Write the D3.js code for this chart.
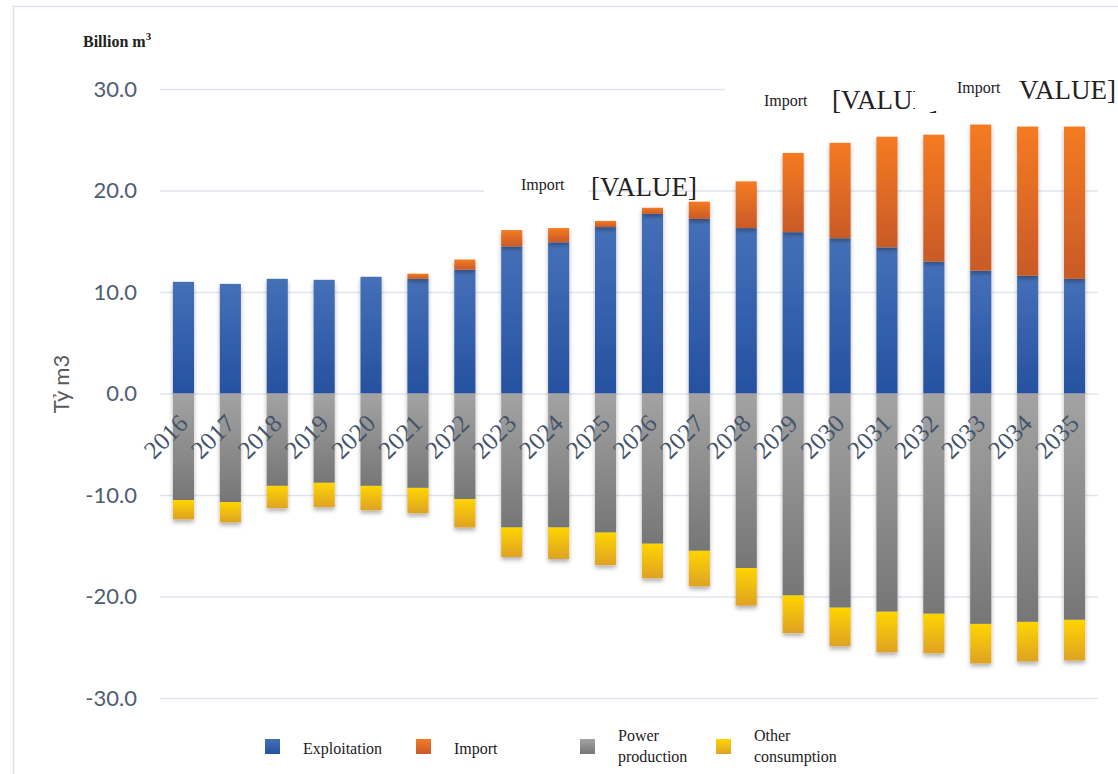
<!DOCTYPE html>
<html>
<head>
<meta charset="utf-8">
<script src="https://cdn.jsdelivr.net/npm/d3@7/dist/d3.min.js"></script>
<style>
  body { margin: 0; background: #fff; }
  svg { display: block; }
</style>
</head>
<body>
<svg id="chart"></svg>
<script>
// values in billion m3
const years = ['2016', '2017', '2018', '2019', '2020', '2021', '2022', '2023', '2024', '2025',
  '2026', '2027', '2028', '2029', '2030', '2031', '2032', '2033', '2034', '2035'];
const exploitation = [11.0, 10.8, 11.3, 11.2, 11.5, 11.3, 12.2, 14.5, 14.9, 16.4,
  17.7, 17.2, 16.3, 15.9, 15.3, 14.4, 13.0, 12.1, 11.6, 11.3];
const importGas = [0, 0, 0, 0, 0, 0.5, 1.0, 1.6, 1.4, 0.6,
  0.6, 1.7, 4.6, 7.8, 9.4, 10.9, 12.5, 14.4, 14.7, 15.0];
const powerProduction = [-10.5, -10.7, -9.1, -8.8, -9.1, -9.3, -10.4, -13.2, -13.2, -13.7,
  -14.8, -15.5, -17.2, -19.9, -21.1, -21.5, -21.7, -22.7, -22.5, -22.3];
const otherConsumption = [-1.9, -2.0, -2.2, -2.4, -2.4, -2.5, -2.8, -2.9, -3.1, -3.2,
  -3.4, -3.5, -3.7, -3.7, -3.8, -4.0, -3.9, -3.9, -3.9, -4.0];
const yTicks = [30, 20, 10, 0, -10, -20, -30];

const series = [
  { key: 'exploitation', label: ['Exploitation'], top: '#4570b8', bottom: '#2551a0' },
  { key: 'import', label: ['Import'], top: '#f57b22', bottom: '#c95a28' },
  { key: 'power', label: ['Power', 'production'], top: '#a3a3a3', bottom: '#767676' },
  { key: 'other', label: ['Other', 'consumption'], top: '#ffd500', bottom: '#dea224' },
];

const rows = years.map((year, i) => ({
  year,
  exploitation: exploitation[i],
  import: importGas[i],
  power: powerProduction[i],
  other: otherConsumption[i],
}));

const width = 1118;
const height = 774;
const svg = d3.select('#chart').attr('width', width).attr('height', height);

const defs = svg.append('defs');
series.forEach((s) => {
  const g = defs.append('linearGradient').attr('id', `grad-${s.key}`)
    .attr('x1', 0).attr('y1', 0).attr('x2', 0).attr('y2', 1);
  g.append('stop').attr('offset', '0%').attr('stop-color', s.top);
  g.append('stop').attr('offset', '100%').attr('stop-color', s.bottom);
});
defs.append('filter').attr('id', 'shadow')
  .attr('x', '-30%').attr('y', '-10%').attr('width', '160%').attr('height', '130%')
  .append('feDropShadow')
  .attr('dx', 0).attr('dy', 3).attr('stdDeviation', 2)
  .attr('flood-color', '#000').attr('flood-opacity', 0.3);

// chart area frame
svg.append('rect')
  .attr('x', 13.5).attr('y', 6.5).attr('width', 1200).attr('height', 900)
  .attr('fill', 'none').attr('stroke', '#dde3ec').attr('stroke-width', 1.5);

const xScale = d3.scaleBand()
  .domain(years)
  .range([160, 1098])
  .paddingInner(0.55)
  .paddingOuter(0.275);

const yScale = d3.scaleLinear()
  .domain([-30, 30])
  .range([698, 89]);

// gridlines + tick labels
const axisy = d3.axisLeft(yScale)
  .tickValues(yTicks)
  .tickSize(-(1098 - 160))
  .tickPadding(23)
  .tickFormat(d => d.toFixed(1));

const gy = svg.append('g')
  .attr('transform', `translate(${160},${0})`)
  .call(axisy);
gy.select('.domain').remove();
gy.selectAll('.tick line').attr('stroke', '#dfe5ee').attr('stroke-width', 1.5);
gy.selectAll('.tick text')
  .attr('fill', '#4e5d70')
  .style('font-family', 'Lato, "Open Sans", sans-serif')
  .style('font-size', '22px');

const stack = d3.stack()
  .keys(series.map(s => s.key))
  .offset(d3.stackOffsetDiverging);
const stacked = stack(rows);

svg.append('g').selectAll('g')
  .data(stacked)
  .join('g')
  .attr('fill', d => `url(#grad-${d.key})`)
  .attr('filter', 'url(#shadow)')
  .selectAll('rect')
  .data(d => d.filter(p => p[1] !== p[0]))
  .join('rect')
  .attr('x', d => xScale(d.data.year))
  .attr('width', xScale.bandwidth())
  .attr('y', d => yScale(Math.max(d[0], d[1])))
  .attr('height', d => Math.abs(yScale(d[0]) - yScale(d[1])));

// year labels, slanted across the bars
svg.append('g').selectAll('text')
  .data(years)
  .join('text')
  .attr('transform', d => `translate(${xScale(d) + xScale.bandwidth() / 2 + 6},${425}) rotate(-45)`)
  .attr('text-anchor', 'end')
  .attr('fill', '#44546a')
  .style('font-family', '"Liberation Serif", "DejaVu Serif", serif')
  .style('font-size', '25px')
  .text(d => d);

// axis titles
svg.append('text')
  .attr('x', 83).attr('y', 47)
  .attr('fill', '#222')
  .style('font-family', '"Liberation Serif", serif')
  .style('font-weight', 'bold')
  .style('font-size', '16px')
  .text('Billion m')
  .append('tspan')
  .attr('dy', -7)
  .style('font-size', '11px')
  .text('3');

svg.append('text')
  .attr('transform', `translate(${69},${384}) rotate(-90)`)
  .attr('text-anchor', 'middle')
  .attr('fill', '#595959')
  .style('font-family', 'Lato, "Open Sans", sans-serif')
  .style('font-size', '22px')
  .text('Tỷ m3');

// leftover data label boxes
const labelFont = '"Liberation Serif", serif';
svg.append('rect').attr('x', 484).attr('y', 172).attr('width', 104).attr('height', 28).attr('fill', '#fff');
svg.append('text').attr('x', 521).attr('y', 190).attr('fill', '#222')
  .style('font-family', labelFont).style('font-size', '16px').text('Import');
svg.append('text').attr('x', 591).attr('y', 196).attr('fill', '#222')
  .style('font-family', labelFont).style('font-size', '27px').text('[VALUE]');

svg.append('rect').attr('x', 725).attr('y', 78).attr('width', 190).attr('height', 36).attr('fill', '#fff');
svg.append('text').attr('x', 764).attr('y', 106).attr('fill', '#222')
  .style('font-family', labelFont).style('font-size', '16px').text('Import');
svg.append('text').attr('x', 832).attr('y', 109).attr('fill', '#222')
  .style('font-family', labelFont).style('font-size', '27px').text('[VALUE]');

svg.append('rect').attr('x', 915).attr('y', 72).attr('width', 203).attr('height', 39).attr('fill', '#fff');
svg.append('text').attr('x', 957).attr('y', 93).attr('fill', '#222')
  .style('font-family', labelFont).style('font-size', '16px').text('Import');
svg.append('text').attr('x', 1019).attr('y', 99).attr('fill', '#222')
  .style('font-family', labelFont).style('font-size', '27px').text('VALUE]');

// legend
const legendX = [265, 416, 580, 716];
const legend = svg.append('g').selectAll('g')
  .data(series)
  .join('g')
  .attr('transform', (d, i) => `translate(${legendX[i]},${739})`);
legend.append('rect')
  .attr('width', 15).attr('height', 15)
  .attr('fill', d => `url(#grad-${d.key})`);
legend.append('text')
  .attr('fill', '#222')
  .style('font-family', labelFont)
  .style('font-size', '16px')
  .selectAll('tspan')
  .data(d => d.label.map((t, j) => ({ t, j, n: d.label.length })))
  .join('tspan')
  .attr('x', 38)
  .attr('y', p => (p.n === 1 ? 15 : (p.j === 0 ? 2 : 23)))
  .text(p => p.t);
</script>
</body>
</html>
